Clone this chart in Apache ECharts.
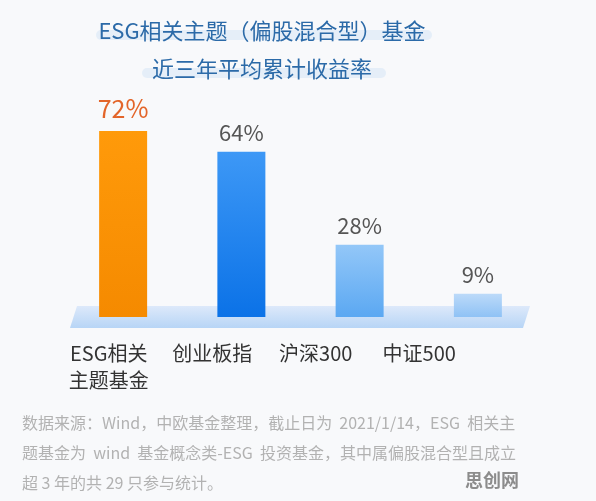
<!DOCTYPE html>
<html>
<head>
<meta charset="utf-8">
<script src="https://cdn.jsdelivr.net/npm/echarts@6/dist/echarts.min.js"></script>
<style>
  html, body { margin: 0; padding: 0; background: #f8f9fb; }
  #main { width: 596px; height: 501px; }
</style>
</head>
<body>
<div id="main"></div>
<script>
  // 数据
  const categories = ['ESG相关\n主题基金', '创业板指', '沪深300', '中证500']
  const values = [72, 64, 28, 9]

  // 每根柱子的渐变色 [上, 下]
  const barColors = [
    ['#ff9a0a', '#f58a00'],
    ['#3d98f6', '#0b72e7'],
    ['#93c7f8', '#5ba8f2'],
    ['#bcdaf9', '#8fc2f5']
  ]

  const font = 'Noto Sans CJK SC'
  const chart = echarts.init(document.getElementById('main'))

  chart.setOption({
    backgroundColor: '#f8f9fb',
    textStyle: { fontFamily: font },
    grid: [
      // 柱子
      { left: 64, right: 59, top: 131, bottom: 184 },
      // 类目标签（在原图里略偏左）
      { left: 57, right: 125, top: 131, bottom: 184 }
    ],
    xAxis: [
      {
        type: 'category',
        gridIndex: 0,
        data: categories,
        axisLine: { show: false },
        axisTick: { show: false },
        axisLabel: { show: false }
      },
      {
        type: 'category',
        gridIndex: 1,
        data: categories,
        axisLine: { show: false },
        axisTick: { show: false },
        axisLabel: {
          interval: 0,
          margin: 23,
          fontSize: 20,
          lineHeight: 27,
          color: '#333',
          fontFamily: font
        }
      }
    ],
    yAxis: [
      { type: 'value', gridIndex: 0, min: 0, max: 72, show: false },
      { type: 'value', gridIndex: 1, min: 0, max: 72, show: false }
    ],
    graphic: [
      // 标题下的浅色底纹
      { type: 'rect', z: -1, shape: { x: 96, y: 30, width: 336, height: 10, r: 5 }, style: { fill: 'rgba(200,222,245,0.4)' } },
      { type: 'rect', z: -1, shape: { x: 142, y: 68, width: 244, height: 10, r: 5 }, style: { fill: 'rgba(200,222,245,0.4)' } },
      // 标题
      {
        type: 'text',
        x: 262,
        y: 12,
        style: {
          text: 'ESG相关主题（偏股混合型）基金\n近三年平均累计收益率',
          font: '22px "Noto Sans CJK SC"',
          lineHeight: 38,
          align: 'center',
          fill: '#2b6aa8'
        }
      },
      // 底座
      {
        type: 'polygon',
        z: 0,
        shape: { points: [[77, 306], [530, 306], [523, 328], [70, 328]] },
        style: {
          fill: new echarts.graphic.LinearGradient(0, 0, 0, 1, [
            { offset: 0, color: '#dde9fa' },
            { offset: 1, color: '#b7d5f6' }
          ])
        }
      },
      {
        type: 'text',
        left: 22,
        top: 408,
        style: {
          text: '数据来源：Wind，中欧基金整理，截止日为  2021/1/14，ESG  相关主\n题基金为  wind  基金概念类-ESG  投资基金，其中属偏股混合型且成立\n超 3 年的共 29 只参与统计。',
          font: '16px "Noto Sans CJK SC"',
          lineHeight: 30,
          fill: '#b2b2b2'
        }
      },
      {
        type: 'text',
        left: 465,
        top: 471,
        style: {
          text: '思创网',
          font: 'bold 18px "Noto Sans CJK SC"',
          fill: '#8c8c8c'
        }
      }
    ],
    series: [
      {
        type: 'bar',
        xAxisIndex: 0,
        yAxisIndex: 0,
        z: 3,
        barWidth: 48,
        data: values.map((v, i) => ({
          value: v,
          itemStyle: {
            color: new echarts.graphic.LinearGradient(0, 0, 0, 1, [
              { offset: 0, color: barColors[i][0] },
              { offset: 1, color: barColors[i][1] }
            ])
          },
          label: i === 0
            ? { color: '#e3652a', fontSize: 25, distance: 10 }
            : { color: '#555', fontSize: 22, distance: 8 }
        })),
        label: {
          show: true,
          position: 'top',
          fontFamily: font,
          formatter: '{c}%'
        }
      }
    ]
  })
</script>
</body>
</html>
